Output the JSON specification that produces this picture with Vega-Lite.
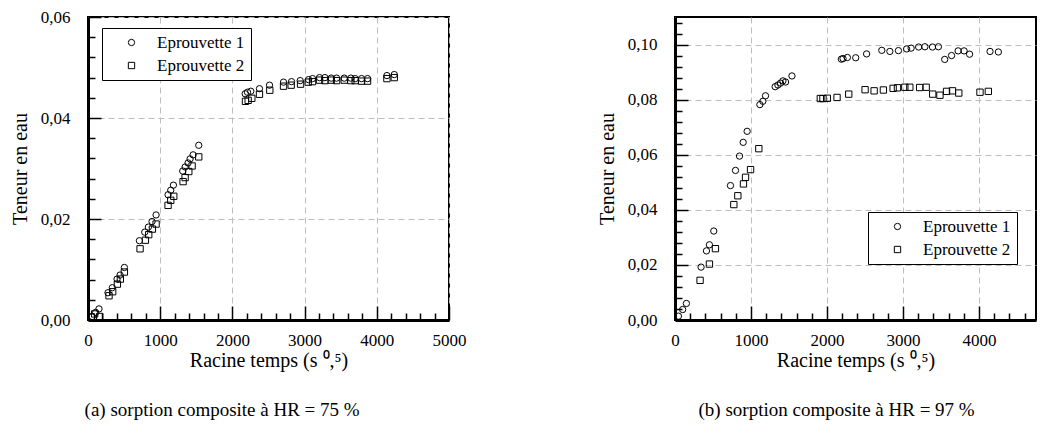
{
  "$schema": "https://vega.github.io/schema/vega-lite/v6.json",
  "autosize": {"type": "pad"},
  "padding": {"left": 9, "top": 7, "right": 4, "bottom": 4},
  "background": "white",
  "spacing": 129,
  "resolve": {"scale": {"shape": "independent"}, "legend": {"shape": "independent"}},
  "config": {
    "view": {"stroke": "black", "strokeWidth": 2}
  },
  "datasets": {
    "a": [
      {"t": 60, "w": 0.0007, "s": "Eprouvette 1"}, {"t": 106, "w": 0.0015, "s": "Eprouvette 1"}, {"t": 152, "w": 0.0022, "s": "Eprouvette 1"},
      {"t": 277, "w": 0.0054, "s": "Eprouvette 1"}, {"t": 337, "w": 0.0064, "s": "Eprouvette 1"}, {"t": 402, "w": 0.0081, "s": "Eprouvette 1"},
      {"t": 444, "w": 0.0089, "s": "Eprouvette 1"}, {"t": 504, "w": 0.0104, "s": "Eprouvette 1"}, {"t": 712, "w": 0.0157, "s": "Eprouvette 1"},
      {"t": 786, "w": 0.0174, "s": "Eprouvette 1"}, {"t": 836, "w": 0.0184, "s": "Eprouvette 1"}, {"t": 887, "w": 0.0195, "s": "Eprouvette 1"},
      {"t": 943, "w": 0.0208, "s": "Eprouvette 1"}, {"t": 1109, "w": 0.0248, "s": "Eprouvette 1"}, {"t": 1146, "w": 0.0257, "s": "Eprouvette 1"},
      {"t": 1183, "w": 0.0267, "s": "Eprouvette 1"}, {"t": 1312, "w": 0.0295, "s": "Eprouvette 1"}, {"t": 1345, "w": 0.0303, "s": "Eprouvette 1"},
      {"t": 1386, "w": 0.0311, "s": "Eprouvette 1"}, {"t": 1414, "w": 0.0319, "s": "Eprouvette 1"}, {"t": 1456, "w": 0.0327, "s": "Eprouvette 1"},
      {"t": 1534, "w": 0.0346, "s": "Eprouvette 1"}, {"t": 2177, "w": 0.0448, "s": "Eprouvette 1"}, {"t": 2209, "w": 0.0451, "s": "Eprouvette 1"},
      {"t": 2255, "w": 0.0453, "s": "Eprouvette 1"}, {"t": 2375, "w": 0.0458, "s": "Eprouvette 1"}, {"t": 2514, "w": 0.0465, "s": "Eprouvette 1"},
      {"t": 2708, "w": 0.0471, "s": "Eprouvette 1"}, {"t": 2819, "w": 0.0472, "s": "Eprouvette 1"}, {"t": 2939, "w": 0.0474, "s": "Eprouvette 1"},
      {"t": 3055, "w": 0.0476, "s": "Eprouvette 1"}, {"t": 3110, "w": 0.0478, "s": "Eprouvette 1"}, {"t": 3207, "w": 0.048, "s": "Eprouvette 1"},
      {"t": 3281, "w": 0.048, "s": "Eprouvette 1"}, {"t": 3369, "w": 0.0479, "s": "Eprouvette 1"}, {"t": 3443, "w": 0.0479, "s": "Eprouvette 1"},
      {"t": 3549, "w": 0.0479, "s": "Eprouvette 1"}, {"t": 3641, "w": 0.0479, "s": "Eprouvette 1"}, {"t": 3701, "w": 0.0478, "s": "Eprouvette 1"},
      {"t": 3789, "w": 0.0478, "s": "Eprouvette 1"}, {"t": 3872, "w": 0.0478, "s": "Eprouvette 1"}, {"t": 4140, "w": 0.0484, "s": "Eprouvette 1"},
      {"t": 4242, "w": 0.0486, "s": "Eprouvette 1"},
      {"t": 46, "w": 0.0006, "s": "Eprouvette 2"}, {"t": 92, "w": 0.0012, "s": "Eprouvette 2"}, {"t": 162, "w": 0.0007, "s": "Eprouvette 2"},
      {"t": 291, "w": 0.0048, "s": "Eprouvette 2"}, {"t": 342, "w": 0.0056, "s": "Eprouvette 2"}, {"t": 407, "w": 0.0071, "s": "Eprouvette 2"},
      {"t": 448, "w": 0.0081, "s": "Eprouvette 2"}, {"t": 504, "w": 0.0095, "s": "Eprouvette 2"}, {"t": 721, "w": 0.0141, "s": "Eprouvette 2"},
      {"t": 795, "w": 0.0158, "s": "Eprouvette 2"}, {"t": 841, "w": 0.0169, "s": "Eprouvette 2"}, {"t": 892, "w": 0.018, "s": "Eprouvette 2"},
      {"t": 943, "w": 0.019, "s": "Eprouvette 2"}, {"t": 1109, "w": 0.0227, "s": "Eprouvette 2"}, {"t": 1146, "w": 0.0237, "s": "Eprouvette 2"},
      {"t": 1188, "w": 0.0245, "s": "Eprouvette 2"}, {"t": 1317, "w": 0.0274, "s": "Eprouvette 2"}, {"t": 1345, "w": 0.0282, "s": "Eprouvette 2"},
      {"t": 1396, "w": 0.0294, "s": "Eprouvette 2"}, {"t": 1442, "w": 0.0305, "s": "Eprouvette 2"}, {"t": 1534, "w": 0.0323, "s": "Eprouvette 2"},
      {"t": 2181, "w": 0.0433, "s": "Eprouvette 2"}, {"t": 2218, "w": 0.0435, "s": "Eprouvette 2"}, {"t": 2269, "w": 0.0439, "s": "Eprouvette 2"},
      {"t": 2375, "w": 0.0447, "s": "Eprouvette 2"}, {"t": 2518, "w": 0.0455, "s": "Eprouvette 2"}, {"t": 2708, "w": 0.0463, "s": "Eprouvette 2"},
      {"t": 2814, "w": 0.0465, "s": "Eprouvette 2"}, {"t": 2944, "w": 0.0467, "s": "Eprouvette 2"}, {"t": 3050, "w": 0.0471, "s": "Eprouvette 2"},
      {"t": 3110, "w": 0.0472, "s": "Eprouvette 2"}, {"t": 3207, "w": 0.0475, "s": "Eprouvette 2"}, {"t": 3281, "w": 0.0474, "s": "Eprouvette 2"},
      {"t": 3369, "w": 0.0475, "s": "Eprouvette 2"}, {"t": 3443, "w": 0.0474, "s": "Eprouvette 2"}, {"t": 3549, "w": 0.0475, "s": "Eprouvette 2"},
      {"t": 3641, "w": 0.0474, "s": "Eprouvette 2"}, {"t": 3701, "w": 0.0474, "s": "Eprouvette 2"}, {"t": 3789, "w": 0.0473, "s": "Eprouvette 2"},
      {"t": 3872, "w": 0.0473, "s": "Eprouvette 2"}, {"t": 4140, "w": 0.0478, "s": "Eprouvette 2"}, {"t": 4242, "w": 0.048, "s": "Eprouvette 2"}
    ],
    "b": [
      {"t": 45, "w": 0.0014, "s": "Eprouvette 1"}, {"t": 101, "w": 0.0038, "s": "Eprouvette 1"}, {"t": 150, "w": 0.006, "s": "Eprouvette 1"},
      {"t": 343, "w": 0.0192, "s": "Eprouvette 1"}, {"t": 414, "w": 0.0251, "s": "Eprouvette 1"}, {"t": 453, "w": 0.0273, "s": "Eprouvette 1"},
      {"t": 510, "w": 0.0323, "s": "Eprouvette 1"}, {"t": 730, "w": 0.0488, "s": "Eprouvette 1"}, {"t": 796, "w": 0.0543, "s": "Eprouvette 1"},
      {"t": 849, "w": 0.0595, "s": "Eprouvette 1"}, {"t": 897, "w": 0.0645, "s": "Eprouvette 1"}, {"t": 949, "w": 0.0685, "s": "Eprouvette 1"},
      {"t": 1117, "w": 0.0782, "s": "Eprouvette 1"}, {"t": 1156, "w": 0.0794, "s": "Eprouvette 1"}, {"t": 1191, "w": 0.0814, "s": "Eprouvette 1"},
      {"t": 1318, "w": 0.0847, "s": "Eprouvette 1"}, {"t": 1354, "w": 0.0853, "s": "Eprouvette 1"}, {"t": 1389, "w": 0.086, "s": "Eprouvette 1"},
      {"t": 1420, "w": 0.0868, "s": "Eprouvette 1"}, {"t": 1455, "w": 0.0864, "s": "Eprouvette 1"}, {"t": 1539, "w": 0.0886, "s": "Eprouvette 1"},
      {"t": 2189, "w": 0.0947, "s": "Eprouvette 1"}, {"t": 2211, "w": 0.0949, "s": "Eprouvette 1"}, {"t": 2268, "w": 0.0953, "s": "Eprouvette 1"},
      {"t": 2378, "w": 0.0952, "s": "Eprouvette 1"}, {"t": 2521, "w": 0.0966, "s": "Eprouvette 1"}, {"t": 2721, "w": 0.0979, "s": "Eprouvette 1"},
      {"t": 2827, "w": 0.0975, "s": "Eprouvette 1"}, {"t": 2940, "w": 0.0978, "s": "Eprouvette 1"}, {"t": 3048, "w": 0.0984, "s": "Eprouvette 1"},
      {"t": 3107, "w": 0.0987, "s": "Eprouvette 1"}, {"t": 3206, "w": 0.0991, "s": "Eprouvette 1"}, {"t": 3288, "w": 0.0992, "s": "Eprouvette 1"},
      {"t": 3388, "w": 0.0991, "s": "Eprouvette 1"}, {"t": 3466, "w": 0.0992, "s": "Eprouvette 1"}, {"t": 3549, "w": 0.0946, "s": "Eprouvette 1"},
      {"t": 3639, "w": 0.096, "s": "Eprouvette 1"}, {"t": 3725, "w": 0.0977, "s": "Eprouvette 1"}, {"t": 3804, "w": 0.0977, "s": "Eprouvette 1"},
      {"t": 3876, "w": 0.0965, "s": "Eprouvette 1"}, {"t": 4145, "w": 0.0975, "s": "Eprouvette 1"}, {"t": 4255, "w": 0.0973, "s": "Eprouvette 1"},
      {"t": 330, "w": 0.0144, "s": "Eprouvette 2"}, {"t": 453, "w": 0.0203, "s": "Eprouvette 2"}, {"t": 532, "w": 0.0259, "s": "Eprouvette 2"},
      {"t": 774, "w": 0.0419, "s": "Eprouvette 2"}, {"t": 827, "w": 0.0451, "s": "Eprouvette 2"}, {"t": 901, "w": 0.0494, "s": "Eprouvette 2"},
      {"t": 928, "w": 0.0518, "s": "Eprouvette 2"}, {"t": 994, "w": 0.0546, "s": "Eprouvette 2"}, {"t": 1103, "w": 0.0622, "s": "Eprouvette 2"},
      {"t": 1912, "w": 0.0804, "s": "Eprouvette 2"}, {"t": 1947, "w": 0.0804, "s": "Eprouvette 2"}, {"t": 2004, "w": 0.0805, "s": "Eprouvette 2"},
      {"t": 2132, "w": 0.0808, "s": "Eprouvette 2"}, {"t": 2286, "w": 0.082, "s": "Eprouvette 2"}, {"t": 2501, "w": 0.0836, "s": "Eprouvette 2"},
      {"t": 2620, "w": 0.0832, "s": "Eprouvette 2"}, {"t": 2742, "w": 0.0835, "s": "Eprouvette 2"}, {"t": 2870, "w": 0.0841, "s": "Eprouvette 2"},
      {"t": 2927, "w": 0.0843, "s": "Eprouvette 2"}, {"t": 3024, "w": 0.0845, "s": "Eprouvette 2"}, {"t": 3090, "w": 0.0845, "s": "Eprouvette 2"},
      {"t": 3219, "w": 0.0844, "s": "Eprouvette 2"}, {"t": 3305, "w": 0.0845, "s": "Eprouvette 2"}, {"t": 3391, "w": 0.082, "s": "Eprouvette 2"},
      {"t": 3486, "w": 0.0816, "s": "Eprouvette 2"}, {"t": 3573, "w": 0.083, "s": "Eprouvette 2"}, {"t": 3651, "w": 0.0832, "s": "Eprouvette 2"},
      {"t": 3734, "w": 0.0824, "s": "Eprouvette 2"}, {"t": 4013, "w": 0.0827, "s": "Eprouvette 2"}, {"t": 4123, "w": 0.083, "s": "Eprouvette 2"}
    ]
  },
  "hconcat": [
    {
      "width": 361, "height": 303,
      "data": {"name": "a"},
      "title": {"text": "(a) sorption composite à HR = 75 %", "orient": "bottom", "anchor": "middle", "frame": "bounds", "font": "Liberation Serif", "fontSize": 19, "fontWeight": "normal", "color": "black", "offset": 31, "dx": -16},
      "layer": [
        {
          "mark": {"type": "point", "filled": false, "color": "black", "strokeWidth": 1, "size": 40, "opacity": 1},
          "encoding": {
            "x": {"field": "t", "type": "quantitative", "scale": {"domain": [0, 5000], "nice": false, "zero": false},
              "axis": {"values": [0, 1000, 2000, 3000, 4000, 5000], "format": "d", "tickSize": -14, "tickWidth": 1.5, "tickColor": "black",
                "labelPadding": 26, "labelFont": "Liberation Serif", "labelFontSize": 17, "labelColor": "black",
                "domain": true, "domainWidth": 3, "domainColor": "black", "grid": true, "gridColor": "#bdbdbd", "gridDash": [6, 4], "gridWidth": 1,
                "title": "Racine temps (s ⁰,⁵)", "titleFont": "Liberation Serif", "titleFontSize": 20, "titleFontWeight": "normal", "titleColor": "black", "titlePadding": 2, "labelFlush": false}},
            "y": {"field": "w", "type": "quantitative", "scale": {"domain": [0, 0.06], "nice": false, "zero": false},
              "axis": {"values": [0, 0.02, 0.04, 0.06], "labelExpr": "replace(format(datum.value, '.2f'), '.', ',')", "tickSize": -13, "tickWidth": 1.5, "tickColor": "black",
                "labelPadding": 31, "labelFont": "Liberation Serif", "labelFontSize": 17, "labelColor": "black",
                "domain": true, "domainWidth": 3, "domainColor": "black", "grid": true, "gridColor": "#bdbdbd", "gridDash": [6, 4], "gridWidth": 1,
                "title": "Teneur en eau", "titleFont": "Liberation Serif", "titleFontSize": 20, "titleFontWeight": "normal", "titleColor": "black", "titlePadding": 10, "labelFlush": false}},
            "shape": {"field": "s", "type": "nominal",
              "scale": {"domain": ["Eprouvette 1", "Eprouvette 2"], "range": ["circle", "square"]},
              "legend": {"title": null, "orient": "none", "legendX": 14, "legendY": 11, "strokeColor": "black", "fillColor": "white",
                "padding": 6, "symbolSize": 40, "symbolStrokeWidth": 1, "symbolStrokeColor": "black", "symbolFillColor": "white",
                "symbolOffset": 15, "labelOffset": 17, "rowPadding": 5, "labelFont": "Liberation Serif", "labelFontSize": 17, "labelColor": "black"}}
          }
        },
        {
          "mark": {"type": "point", "opacity": 0},
          "encoding": {
            "x": {"field": "t", "type": "quantitative",
              "axis": {"values": [200, 400, 600, 800, 1200, 1400, 1600, 1800, 2200, 2400, 2600, 2800, 3200, 3400, 3600, 3800, 4200, 4400, 4600, 4800],
                "tickSize": -7, "tickWidth": 1.5, "tickColor": "black", "labels": false, "domain": false, "grid": false, "title": null, "orient": "bottom"}},
            "y": {"field": "w", "type": "quantitative",
              "axis": {"values": [0.004, 0.008, 0.012, 0.016, 0.024, 0.028, 0.032, 0.036, 0.044, 0.048, 0.052, 0.056],
                "tickSize": -7, "tickWidth": 1.5, "tickColor": "black", "labels": false, "domain": false, "grid": false, "title": null, "orient": "left"}}
          }
        }
      ],
      "resolve": {"axis": {"x": "independent", "y": "independent"}}
    },
    {
      "width": 361, "height": 303,
      "data": {"name": "b"},
      "title": {"text": "(b) sorption composite à HR = 97 %", "orient": "bottom", "anchor": "middle", "frame": "bounds", "font": "Liberation Serif", "fontSize": 19, "fontWeight": "normal", "color": "black", "offset": 31, "dx": 20},
      "layer": [
        {
          "mark": {"type": "point", "filled": false, "color": "black", "strokeWidth": 1, "size": 40, "opacity": 1},
          "encoding": {
            "x": {"field": "t", "type": "quantitative", "scale": {"domain": [0, 4750], "nice": false, "zero": false},
              "axis": {"values": [0, 1000, 2000, 3000, 4000], "format": "d", "tickSize": -14, "tickWidth": 1.5, "tickColor": "black",
                "labelPadding": 26, "labelFont": "Liberation Serif", "labelFontSize": 17, "labelColor": "black",
                "domain": true, "domainWidth": 3, "domainColor": "black", "grid": true, "gridColor": "#bdbdbd", "gridDash": [6, 4], "gridWidth": 1,
                "title": "Racine temps (s ⁰,⁵)", "titleFont": "Liberation Serif", "titleFontSize": 20, "titleFontWeight": "normal", "titleColor": "black", "titlePadding": 2, "labelFlush": false}},
            "y": {"field": "w", "type": "quantitative", "scale": {"domain": [0, 0.11], "nice": false, "zero": false},
              "axis": {"values": [0, 0.02, 0.04, 0.06, 0.08, 0.1], "labelExpr": "replace(format(datum.value, '.2f'), '.', ',')", "tickSize": -13, "tickWidth": 1.5, "tickColor": "black",
                "labelPadding": 31, "labelFont": "Liberation Serif", "labelFontSize": 17, "labelColor": "black",
                "domain": true, "domainWidth": 3, "domainColor": "black", "grid": true, "gridColor": "#bdbdbd", "gridDash": [6, 4], "gridWidth": 1,
                "title": "Teneur en eau", "titleFont": "Liberation Serif", "titleFontSize": 20, "titleFontWeight": "normal", "titleColor": "black", "titlePadding": 10, "labelFlush": false}},
            "shape": {"field": "s", "type": "nominal",
              "scale": {"domain": ["Eprouvette 1", "Eprouvette 2"], "range": ["circle", "square"]},
              "legend": {"title": null, "orient": "none", "legendX": 193, "legendY": 195, "strokeColor": "black", "fillColor": "white",
                "padding": 6, "symbolSize": 40, "symbolStrokeWidth": 1, "symbolStrokeColor": "black", "symbolFillColor": "white",
                "symbolOffset": 15, "labelOffset": 17, "rowPadding": 5, "labelFont": "Liberation Serif", "labelFontSize": 17, "labelColor": "black"}}
          }
        },
        {
          "mark": {"type": "point", "opacity": 0},
          "encoding": {
            "x": {"field": "t", "type": "quantitative",
              "axis": {"values": [200, 400, 600, 800, 1200, 1400, 1600, 1800, 2200, 2400, 2600, 2800, 3200, 3400, 3600, 3800, 4200, 4400, 4600],
                "tickSize": -7, "tickWidth": 1.5, "tickColor": "black", "labels": false, "domain": false, "grid": false, "title": null, "orient": "bottom"}},
            "y": {"field": "w", "type": "quantitative",
              "axis": {"values": [0.004, 0.008, 0.012, 0.016, 0.024, 0.028, 0.032, 0.036, 0.044, 0.048, 0.052, 0.056, 0.064, 0.068, 0.072, 0.076, 0.084, 0.088, 0.092, 0.096, 0.104, 0.108],
                "tickSize": -7, "tickWidth": 1.5, "tickColor": "black", "labels": false, "domain": false, "grid": false, "title": null, "orient": "left"}}
          }
        }
      ],
      "resolve": {"axis": {"x": "independent", "y": "independent"}}
    }
  ]
}
